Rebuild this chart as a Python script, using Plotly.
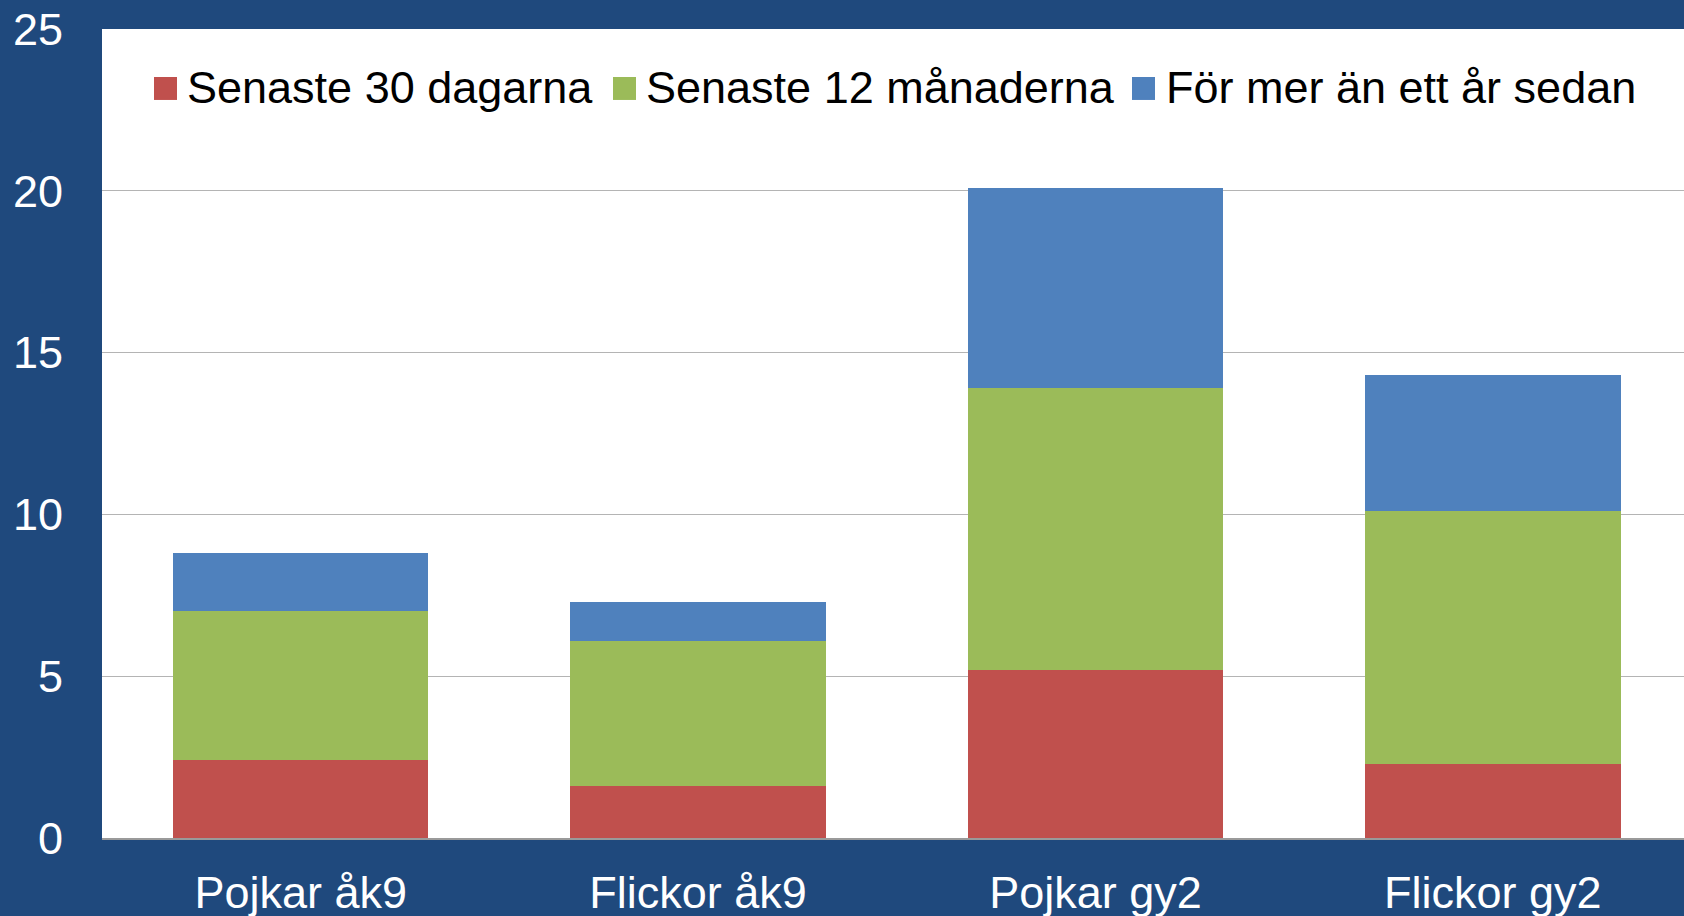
import plotly.graph_objects as go

categories = ["Pojkar åk9", "Flickor åk9", "Pojkar gy2", "Flickor gy2"]
series_names = ["Senaste 30 dagarna", "Senaste 12 månaderna", "För mer än ett år sedan"]
senaste_30 = [2.4, 1.6, 5.2, 2.3]
senaste_12 = [4.6, 4.5, 8.7, 7.8]
mer_an_ett_ar = [1.8, 1.2, 6.2, 4.2]
y_ticks = [0, 5, 10, 15, 20, 25]

colors = ["#C0504D", "#9BBB59", "#4F81BD"]
values = [senaste_30, senaste_12, mer_an_ett_ar]

FONT = "Liberation Sans, Arial, sans-serif"
W, H = 1684, 916
ML, MT, MB = 102, 28.5, 78
PW, PH = W - ML, H - MT - MB

fig = go.Figure()
for name, vals, col in zip(series_names, values, colors):
    fig.add_trace(go.Bar(
        x=categories, y=vals, name=name, marker_color=col,
        marker_line_width=0, width=0.643, showlegend=False,
    ))

# manual legend (large square swatches like the original)
legend_sq_left = [154, 613, 1132]
legend_text_left = [185, 644, 1164]
legend_cy = 88
sq = 23
for name, col, sx, tx in zip(series_names, colors, legend_sq_left, legend_text_left):
    fig.add_shape(
        type="rect", xref="paper", yref="paper",
        x0=(sx - ML) / PW, x1=(sx + sq - ML) / PW,
        y0=(H - MB - (legend_cy + sq / 2)) / PH, y1=(H - MB - (legend_cy - sq / 2)) / PH,
        fillcolor=col, line_width=0,
    )
    fig.add_annotation(
        text=name, xref="paper", yref="paper",
        x=(tx - ML) / PW, y=(H - MB - legend_cy + 1) / PH,
        xanchor="left", yanchor="middle", showarrow=False,
        font=dict(family=FONT, size=45, color="black"),
    )

fig.update_layout(
    width=W, height=H,
    margin=dict(l=ML, r=0, t=MT, b=MB),
    paper_bgcolor="#1F497D",
    plot_bgcolor="#FFFFFF",
    barmode="stack",
    showlegend=False,
    font=dict(family=FONT, size=45, color="white"),
    xaxis=dict(
        range=[-0.5, 3.481], showgrid=False, ticks="", automargin=False,
        ticklabelstandoff=14, tickfont=dict(size=45, color="white"),
        showline=True, linecolor="#9A9A9A", linewidth=1.5,
    ),
    yaxis=dict(
        range=[0, 25], tickvals=y_ticks, showgrid=True, gridcolor="#B4B4B4",
        gridwidth=1.2, zeroline=False, ticks="", ticklabelstandoff=38,
        automargin=False, tickfont=dict(size=45, color="white"),
    ),
)

fig.write_html(
    "out.html",
    config={"displayModeBar": False},
    post_script="document.body.style.margin='0';document.body.style.overflow='hidden';",
)
